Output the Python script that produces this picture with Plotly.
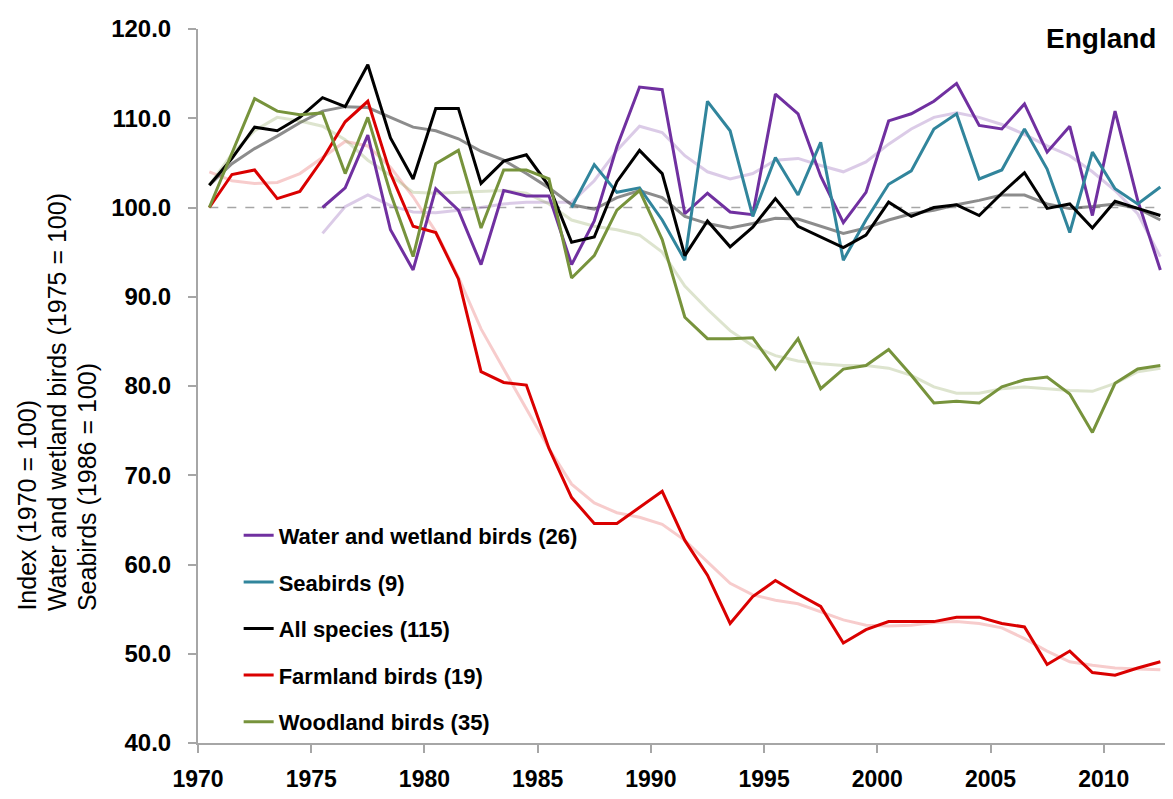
import plotly.graph_objects as go

years = list(range(1970, 2013))

all_species = [102.5, 105.5, 109.0, 108.6, 110.1, 112.3, 111.3, 116.0, 107.8, 103.2,
               111.1, 111.1, 102.7, 105.2, 105.9, 102.4, 96.1, 96.7, 102.9, 106.4,
               103.8, 94.6, 98.5, 95.6, 97.8, 101.0, 97.9, 96.7, 95.5, 96.9,
               100.6, 99.0, 100.0, 100.3, 99.1, 101.6, 103.9, 99.9, 100.4, 97.7,
               100.7, 99.9, 99.1]
all_smooth = [102.5, 104.9, 106.6, 108.0, 109.5, 110.8, 111.3, 111.2, 110.1, 109.0,
              108.6, 107.7, 106.3, 105.3, 103.8, 102.2, 100.3, 99.8, 101.1, 101.9,
              101.1, 99.0, 98.2, 97.7, 98.2, 98.8, 98.7, 97.9, 97.1, 97.7,
              98.6, 99.3, 99.7, 100.3, 100.8, 101.4, 101.4, 100.4, 99.9, 100.1,
              100.4, 99.9, 98.6]

farmland = [100.0, 103.7, 104.2, 101.0, 101.8, 105.4, 109.6, 111.9, 103.8, 97.9,
            97.2, 92.0, 81.6, 80.4, 80.1, 73.0, 67.5, 64.6, 64.6, 66.4,
            68.2, 62.7, 58.8, 53.4, 56.4, 58.2, 56.7, 55.3, 51.2, 52.7,
            53.6, 53.6, 53.6, 54.1, 54.1, 53.4, 53.0, 48.8, 50.3, 47.9,
            47.6, 48.4, 49.1]
farm_smooth = [104.0, 103.0, 102.7, 102.8, 103.8, 105.6, 107.4, 106.9, 104.5, 101.2,
               97.3, 92.2, 86.4, 81.9, 77.5, 73.0, 69.0, 66.9, 65.8, 65.3,
               64.5, 62.7, 60.3, 57.9, 56.6, 56.0, 55.6, 54.7, 53.8, 53.2,
               53.1, 53.2, 53.5, 53.6, 53.4, 52.9, 51.7, 50.3, 49.1, 48.7,
               48.4, 48.3, 48.2]

woodland = [100.0, 106.0, 112.2, 110.8, 110.4, 110.6, 103.8, 110.1, 101.6, 94.5,
            104.9, 106.4, 97.7, 104.2, 104.2, 103.2, 92.1, 94.6, 99.7, 101.9,
            96.4, 87.7, 85.3, 85.3, 85.4, 81.9, 85.3, 79.7, 81.9, 82.3,
            84.1, 81.2, 78.1, 78.3, 78.1, 79.9, 80.7, 81.0, 79.1, 74.8,
            80.3, 81.9, 82.3]
wood_smooth = [102.5, 106.0, 108.6, 110.1, 109.7, 109.1, 107.6, 105.3, 103.6, 101.7,
               101.6, 101.7, 101.8, 101.9, 101.6, 100.4, 98.6, 97.9, 97.5, 96.9,
               95.0, 91.2, 88.6, 86.2, 84.5, 83.4, 82.8, 82.5, 82.3, 82.3,
               82.0, 81.2, 79.9, 79.2, 79.2, 79.7, 79.9, 79.7, 79.5, 79.4,
               80.3, 81.6, 82.0]

water_years = list(range(1975, 2013))
water = [100.0, 102.2, 108.1, 97.5, 93.0,
         102.1, 99.7, 93.6, 101.9, 101.3, 101.3, 93.6, 98.5, 106.8, 113.5,
         113.2, 99.3, 101.6, 99.5, 99.2, 112.7, 110.5, 103.5, 98.3, 101.7,
         109.7, 110.5, 111.9, 113.9, 109.2, 108.8, 111.6, 106.2, 109.1, 99.1,
         110.8, 100.8, 93.0]
water_smooth = [97.1, 100.1, 101.4, 100.2, 99.5,
                99.4, 99.7, 100.0, 100.4, 100.6, 100.6, 100.6, 103.0, 106.4, 109.1,
                108.4, 105.8, 104.0, 103.2, 103.8, 105.3, 105.5, 104.7, 104.0, 105.1,
                107.1, 108.8, 110.1, 110.6, 110.1, 109.3, 108.2, 106.9, 105.8, 104.0,
                101.9, 99.3, 94.5]

sea_years = list(range(1986, 2013))
seabirds = [100.0, 104.8, 101.7, 102.2,
            98.6, 94.1, 111.9, 108.6, 99.0, 105.6, 101.4, 107.3, 94.1, 98.6,
            102.6, 104.1, 108.8, 110.5, 103.2, 104.2, 108.8, 104.3, 97.2, 106.2,
            102.1, 100.4, 102.3]

tick_years = [1970, 1975, 1980, 1985, 1990, 1995, 2000, 2005, 2010]
y_ticks = [40, 50, 60, 70, 80, 90, 100, 110, 120]
BASELINE = 100

C_WATER = "#7030A0"
C_SEA = "#31859C"
C_ALL = "#000000"
C_FARM = "#DA0000"
C_WOOD = "#77933C"

FONT = "Liberation Sans, Arial, sans-serif"

fig = go.Figure()

# smoothed trends (pale)
fig.add_trace(go.Scatter(x=water_years, y=water_smooth, mode="lines",
                         line=dict(color="rgba(112,48,160,0.25)", width=3), showlegend=False, hoverinfo="skip"))
fig.add_trace(go.Scatter(x=years, y=all_smooth, mode="lines",
                         line=dict(color="rgba(0,0,0,0.45)", width=3), showlegend=False, hoverinfo="skip"))
fig.add_trace(go.Scatter(x=years, y=farm_smooth, mode="lines",
                         line=dict(color="rgba(216,0,0,0.2)", width=3), showlegend=False, hoverinfo="skip"))
fig.add_trace(go.Scatter(x=years, y=wood_smooth, mode="lines",
                         line=dict(color="rgba(119,147,60,0.25)", width=3), showlegend=False, hoverinfo="skip"))

# main series
series = [
    ("Water and wetland birds (26)", water_years, water, C_WATER),
    ("Seabirds (9)", sea_years, seabirds, C_SEA),
    ("All species (115)", years, all_species, C_ALL),
    ("Farmland birds (19)", years, farmland, C_FARM),
    ("Woodland birds (35)", years, woodland, C_WOOD),
]
for i, (name, xs, ys, col) in enumerate(series):
    fig.add_trace(go.Scatter(x=xs, y=ys, mode="lines", name=name,
                             legendgroup=f"g{i}", legendrank=i + 1,
                             line=dict(color=col, width=3)))

fig.add_shape(type="line", xref="x", yref="y", x0=years[0], x1=years[-1],
              y0=BASELINE, y1=BASELINE, layer="below",
              line=dict(color="#A6A6A6", width=1.5, dash="dash"))

# page body has an 8px margin; size/margins compensate so the plot area sits at
# x 198..1166, y 24..744 in the 1173x799 window
fig.update_layout(
    width=1165, height=791,
    margin=dict(l=190, r=7, t=16, b=55),
    paper_bgcolor="white", plot_bgcolor="white",
    font=dict(family=FONT, color="black"),
    legend=dict(x=0.042, y=0.32, xanchor="left", yanchor="top",
                font=dict(family=FONT, size=22, weight="bold"),
                tracegroupgap=15, traceorder="grouped",
                bgcolor="rgba(0,0,0,0)", itemwidth=30),
    xaxis=dict(range=[1969.5, 2012.25],
               tickvals=[t - 0.5 for t in tick_years],
               ticktext=[str(t) for t in tick_years],
               ticks="outside", ticklen=8, tickcolor="#A6A6A6", tickwidth=1.5,
               showline=True, linecolor="#A6A6A6", linewidth=2,
               showgrid=False, zeroline=False,
               tickfont=dict(family=FONT, size=23, weight="bold"),
               ticklabelstandoff=6),
    yaxis=dict(range=[40, 120], tickvals=y_ticks, tickformat=".1f",
               ticks="outside", ticklen=8, tickcolor="#A6A6A6", tickwidth=1.5,
               showline=True, linecolor="#A6A6A6", linewidth=2,
               showgrid=False, zeroline=False,
               tickfont=dict(family=FONT, size=24, weight="bold"),
               ticklabelstandoff=12),
)

fig.add_annotation(text="England", xref="paper", yref="paper", x=0.992, y=0.986,
                   xanchor="right", yanchor="middle", showarrow=False,
                   font=dict(family=FONT, size=28, weight="bold"))

title_lines = ["Index (1970 = 100)", "Water and wetland birds (1975 = 100)", "Seabirds (1986 = 100)"]
title_x_px = [27, 57, 87]
for txt, px in zip(title_lines, title_x_px):
    fig.add_annotation(text=txt, xref="paper", yref="paper",
                       x=(px - 198) / 968, y=(744 - 613) / 720,
                       xanchor="center", yanchor="bottom", textangle=-90,
                       showarrow=False, font=dict(family=FONT, size=25))

fig.write_html("out.html")
